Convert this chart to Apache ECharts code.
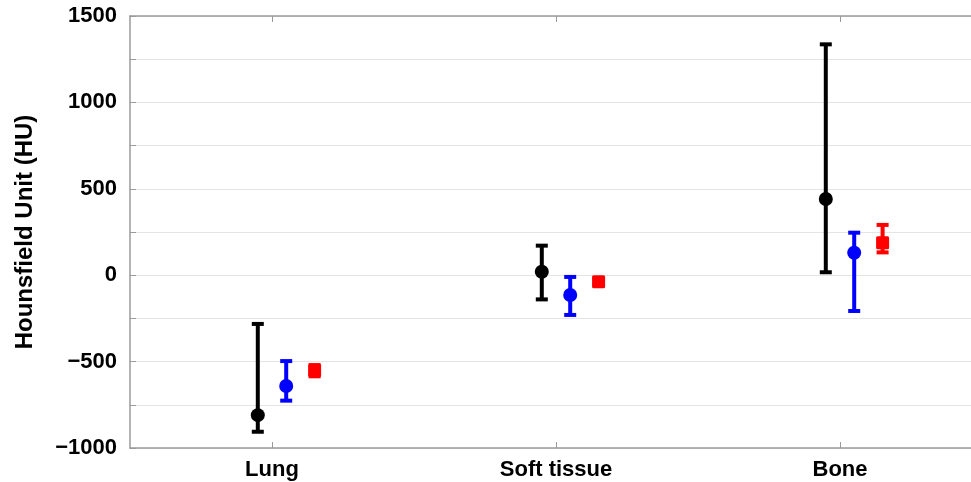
<!DOCTYPE html>
<html>
<head>
<meta charset="utf-8">
<script src="https://cdn.jsdelivr.net/npm/echarts@6/dist/echarts.min.js"></script>
<style>html,body{margin:0;padding:0;background:#fff}#c{width:971px;height:482px}</style>
</head>
<body>
<div id="c"></div>
<script>
const categories = ['Lung', 'Soft tissue', 'Bone'];
const yTicks = [-1000, -500, 0, 500, 1000, 1500];

const blackMean = [-810, 20, 441];
const blackLow  = [-906, -140, 17];
const blackHigh = [-282, 171, 1336];

const blueMean = [-641, -115, 130];
const blueLow  = [-726, -230, -207];
const blueHigh = [-497, -10, 246];

const redMean = [-552, -38, 188];
const redLow  = [-585, -55, 132];
const redHigh = [-520, -20, 291];

function build(mean, low, high) {
  return categories.map((c, i) => [i, mean[i], low[i], high[i]]);
}

function makeSeries(name, color, mean, low, high, offset, shape) {
  return {
    type: 'custom',
    name: name,
    xAxisIndex: 0,
    yAxisIndex: 0,
    clip: false,
    data: build(mean, low, high),
    encode: { x: 0, y: [1, 2, 3] },
    renderItem: function (params, api) {
      const idx = api.value(0);
      const band = api.size([1, 0])[0];
      const pm = api.coord([idx, api.value(1)]);
      const pl = api.coord([idx, api.value(2)]);
      const ph = api.coord([idx, api.value(3)]);
      const x = pm[0] + offset * band;
      const capW = 12;
      const lw = 4;
      const st = { stroke: color, lineWidth: lw };
      const children = [
        { type: 'line', shape: { x1: x, y1: pl[1], x2: x, y2: ph[1] }, style: st },
        { type: 'line', shape: { x1: x - capW / 2, y1: pl[1], x2: x + capW / 2, y2: pl[1] }, style: st },
        { type: 'line', shape: { x1: x - capW / 2, y1: ph[1], x2: x + capW / 2, y2: ph[1] }, style: st }
      ];
      if (shape === 'rect') {
        children.push({ type: 'rect', shape: { x: x - 6.5, y: pm[1] - 6.5, width: 13, height: 13, r: 1.5 }, style: { fill: color } });
      } else {
        children.push({ type: 'circle', shape: { cx: x, cy: pm[1], r: 7 }, style: { fill: color } });
      }
      return { type: 'group', children: children };
    }
  };
}

const chart = echarts.init(document.getElementById('c'), null, { renderer: 'canvas' });
const axisGray = '#9a9a9a';
const font = 'Liberation Sans, Arial, sans-serif';
chart.setOption({
  animation: false,
  backgroundColor: '#ffffff',
  grid: { left: 130, top: 16, height: 432, width: 852, containLabel: false, outerBoundsMode: 'none' },
  xAxis: [
    {
      type: 'category',
      data: categories,
      position: 'bottom',
      boundaryGap: true,
      axisLine: { onZero: false, lineStyle: { color: axisGray, width: 1.5 } },
      axisTick: { show: true, inside: true, alignWithLabel: true, length: 6, lineStyle: { color: axisGray, width: 1 } },
      axisLabel: { color: '#000', fontSize: 22, fontWeight: 'bold', fontFamily: font, margin: 11 },
      splitLine: { show: false }
    },
    {
      type: 'category',
      data: categories,
      position: 'top',
      boundaryGap: true,
      axisLine: { onZero: false, lineStyle: { color: axisGray, width: 1.5 } },
      axisTick: { show: true, inside: true, alignWithLabel: true, length: 6, lineStyle: { color: axisGray, width: 1 } },
      axisLabel: { show: false },
      splitLine: { show: false }
    }
  ],
  yAxis: {
    type: 'value',
    min: -1000,
    max: 1500,
    interval: 250,
    name: 'Hounsfield Unit (HU)',
    nameLocation: 'middle',
    nameGap: 93,
    nameTextStyle: { color: '#000', fontSize: 24, fontWeight: 'bold', fontFamily: font },
    axisLine: { show: true, onZero: false, lineStyle: { color: axisGray, width: 1.5 } },
    axisTick: { show: true, inside: true, length: 6, lineStyle: { color: axisGray } },
    axisLabel: {
      color: '#000', fontSize: 22, fontWeight: 'bold', fontFamily: font, margin: 13,
      formatter: function (v) {
        if (yTicks.indexOf(v) < 0) return '';
        return v < 0 ? '\u2212' + Math.abs(v) : String(v);
      }
    },
    splitLine: { show: true, lineStyle: { color: '#e4e4e4', width: 1 } }
  },
  series: [
    makeSeries('Black', '#000000', blackMean, blackLow, blackHigh, -0.05, 'circle'),
    makeSeries('Blue', '#0000ff', blueMean, blueLow, blueHigh, 0.05, 'circle'),
    makeSeries('Red', '#ff0000', redMean, redLow, redHigh, 0.15, 'rect')
  ]
});
</script>
</body>
</html>
